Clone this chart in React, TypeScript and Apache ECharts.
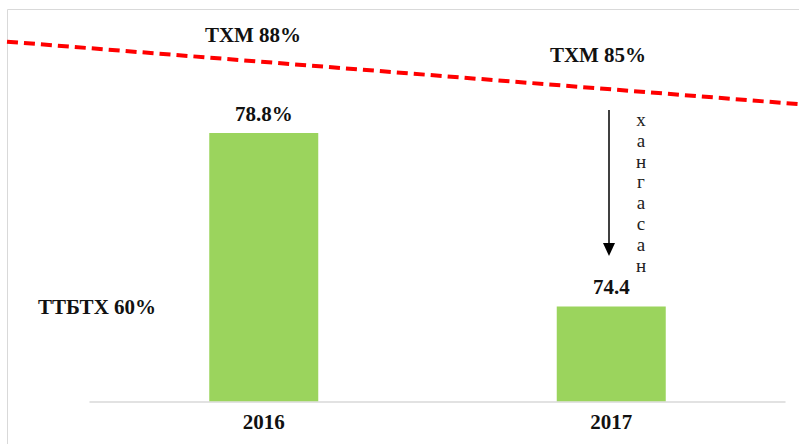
import React, { useEffect, useRef } from "react";
import * as echarts from "echarts";

const categories = ["2016", "2017"];
const barValues = [78.8, 74.4];
const barLabels = ["78.8%", "74.4"];
const targetLine = [88, 85];
const targetLabels = ["ТХМ 88%", "ТХМ 85%"];
const baselineLabel = "ТТБТХ 60%";
const arrowText = "хангасан";

const FONT = "'Liberation Serif', 'Times New Roman', serif";
const FS = 21;

export default function App() {
  const ref = useRef<HTMLDivElement>(null);
  useEffect(() => {
    if (!ref.current) return;
    const chart = echarts.init(ref.current, null, { renderer: "svg" });
    const boldText = (text: string, x: number, y: number, align: string) => ({
      type: "text",
      x,
      y,
      style: {
        text,
        fontFamily: FONT,
        fontWeight: "bold",
        fontSize: FS,
        fill: "#111",
        textAlign: align,
        textVerticalAlign: "middle",
      },
    });
    chart.setOption({
      animation: false,
      backgroundColor: "#ffffff",
      grid: [
        { left: 90, right: 14, top: 85.7, bottom: 42.7 },
        { left: 7, right: 0, top: 0, height: 208.33 },
      ],
      xAxis: [
        {
          type: "category",
          gridIndex: 0,
          data: categories,
          axisLine: { lineStyle: { color: "#d9d9d9", width: 1.5 } },
          axisTick: { show: false },
          axisLabel: {
            margin: 10,
            color: "#111",
            fontFamily: FONT,
            fontWeight: "bold",
            fontSize: FS,
          },
        },
        { type: "value", gridIndex: 1, min: 0, max: 1, show: false },
      ],
      yAxis: [
        { type: "value", gridIndex: 0, min: 72, max: 80, show: false },
        { type: "value", gridIndex: 1, min: 80, max: 90, show: false },
      ],
      series: [
        {
          type: "bar",
          xAxisIndex: 0,
          yAxisIndex: 0,
          barWidth: 109,
          data: barValues.map((v, i) => ({ value: v, label: { formatter: barLabels[i] } })),
          itemStyle: { color: "#9bd45d" },
          label: {
            show: true,
            position: "top",
            distance: 9,
            color: "#111",
            fontFamily: FONT,
            fontWeight: "bold",
            fontSize: FS,
          },
        },
        {
          type: "line",
          xAxisIndex: 1,
          yAxisIndex: 1,
          data: [
            [0, targetLine[0]],
            [1, targetLine[1]],
          ],
          symbol: "none",
          clip: false,
          lineStyle: { color: "#ff0000", width: 4, type: [11, 6], cap: "butt" },
        },
      ],
      graphic: [
        {
          type: "rect",
          shape: { x: 7.5, y: 9.5, width: 900, height: 600 },
          style: { fill: "none", stroke: "#d9d9d9", lineWidth: 1 },
          z: -1,
        },
        boldText(targetLabels[0], 253, 35, "center"),
        boldText(targetLabels[1], 598, 55, "center"),
        boldText(baselineLabel, 38, 307, "left"),
        {
          type: "line",
          shape: { x1: 609, y1: 110, x2: 609, y2: 245 },
          style: { stroke: "#000", lineWidth: 1.5 },
        },
        {
          type: "polygon",
          shape: { points: [[603, 243], [615, 243], [609, 256]] },
          style: { fill: "#000" },
        },
        {
          type: "text",
          x: 641,
          y: 109,
          style: {
            text: arrowText.split("").join("\n"),
            fontFamily: FONT,
            fontSize: 19,
            lineHeight: 20.8,
            fill: "#222",
            textAlign: "center",
            textVerticalAlign: "top",
          },
        },
      ],
    });
    return () => chart.dispose();
  }, []);
  return (
    <div
      ref={ref}
      style={{ position: "fixed", left: 0, top: 0, width: 799, height: 444 }}
    />
  );
}
